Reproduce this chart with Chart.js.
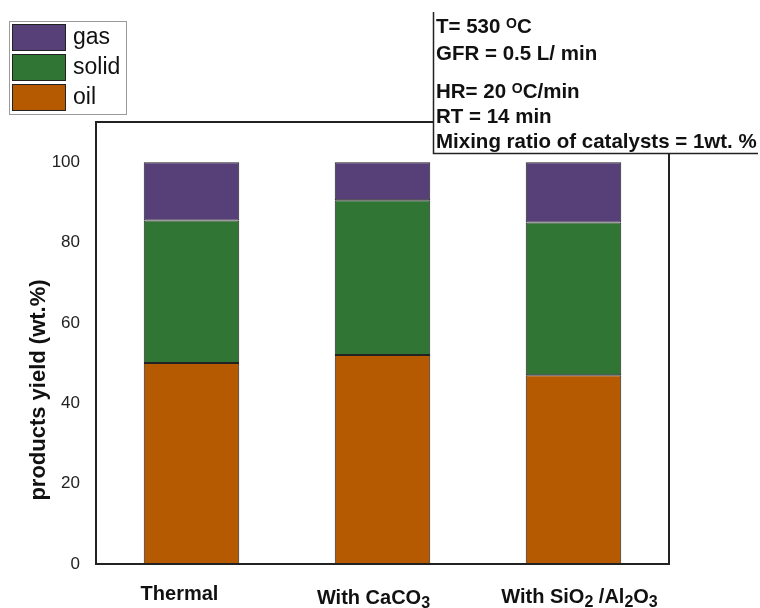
<!DOCTYPE html>
<html>
<head>
<meta charset="utf-8">
<script src="https://cdn.jsdelivr.net/npm/chart.js@4.4.1/dist/chart.umd.min.js"></script>
<style>
  html, body { margin: 0; padding: 0; background: #fff; }
  #wrap { width: 760px; height: 608px; }
</style>
</head>
<body>
<div id="wrap"><canvas id="yieldChart" width="760" height="608"></canvas></div>
<script>
// chart values
var categories = ['Thermal', 'With CaCO₃', 'With SiO₂ /Al₂O₃'];
var oil = [50, 52, 47];
var solid = [35.5, 38.5, 38];
var gas = [14.5, 9.5, 15];
var yTicks = [0, 20, 40, 60, 80, 100];
var yTitle = 'products yield (wt.%)';
var conditions = ['T= 530 ᴼC', 'GFR = 0.5 L/ min', 'HR= 20 ᴼC/min', 'RT = 14 min', 'Mixing ratio of catalysts = 1wt. %'];

var FAMILY = '"Liberation Sans", Arial, sans-serif';
var SUB = '₀₁₂₃₄₅₆₇₈₉';

// split text into normal / subscript / superscript runs
function splitRich(str) {
  var parts = [];
  for (var ch of str) {
    var kind = 'n', c = ch;
    var i = SUB.indexOf(ch);
    if (i >= 0) { kind = 'sub'; c = String(i); }
    else if (ch === 'ᴼ') { kind = 'sup'; c = 'O'; }
    var last = parts[parts.length - 1];
    if (last && last.kind === kind) last.text += c;
    else parts.push({ text: c, kind: kind });
  }
  return parts;
}

function drawRich(ctx, str, x, y, size, align) {
  var parts = splitRich(str);
  var fonts = {
    n: 'bold ' + size + 'px ' + FAMILY,
    sub: 'bold ' + Math.round(size * 0.78) + 'px ' + FAMILY,
    sup: 'bold ' + Math.round(size * 0.7) + 'px ' + FAMILY
  };
  var shift = { n: 0, sub: size * 0.22, sup: -size * 0.22 };
  var total = 0;
  parts.forEach(function (p) { ctx.font = fonts[p.kind]; p.w = ctx.measureText(p.text).width; total += p.w; });
  var cx = align === 'center' ? x - total / 2 : x;
  ctx.textAlign = 'left';
  ctx.textBaseline = 'alphabetic';
  parts.forEach(function (p) {
    ctx.font = fonts[p.kind];
    ctx.fillText(p.text, cx, y + shift[p.kind]);
    cx += p.w;
  });
}

var labelShift = [-12, -9, 6];
var labelBase = [600, 604, 603];
var condBase = [33, 60, 98, 123, 148];

var extrasPlugin = {
  id: 'extras',
  afterDraw: function (chart) {
    var ctx = chart.ctx;
    var a = chart.chartArea;
    var xs = chart.scales.x;
    ctx.save();

    // frame top and right
    ctx.strokeStyle = '#222';
    ctx.lineWidth = 2;
    ctx.beginPath();
    ctx.moveTo(a.left, a.top);
    ctx.lineTo(a.right, a.top);
    ctx.lineTo(a.right, a.bottom);
    ctx.stroke();

    // category labels with subscripts
    ctx.fillStyle = '#111';
    categories.forEach(function (c, i) {
      drawRich(ctx, c, xs.getPixelForValue(i) + labelShift[i], labelBase[i], 20, 'center');
    });

    // y axis title
    ctx.save();
    ctx.translate(39, 390);
    ctx.rotate(-Math.PI / 2);
    ctx.font = 'bold 22px ' + FAMILY;
    ctx.textAlign = 'center';
    ctx.textBaseline = 'middle';
    ctx.fillText(yTitle, 0, 0);
    ctx.restore();

    // conditions box
    ctx.fillStyle = '#fff';
    ctx.fillRect(434, 0, 326, 153);
    ctx.strokeStyle = '#222';
    ctx.lineWidth = 1.5;
    ctx.beginPath();
    ctx.moveTo(433.5, 12);
    ctx.lineTo(433.5, 153.5);
    ctx.lineTo(758, 153.5);
    ctx.stroke();
    ctx.fillStyle = '#111';
    conditions.forEach(function (t, i) {
      drawRich(ctx, t, 436, condBase[i], 20.5, 'left');
    });

    // legend box
    ctx.fillStyle = '#fff';
    ctx.fillRect(9, 21, 118, 93);
    ctx.strokeStyle = '#9a9a9a';
    ctx.lineWidth = 1;
    ctx.strokeRect(9.5, 21.5, 117, 93);
    var ds = chart.data.datasets.slice().reverse();
    ds.forEach(function (d, i) {
      var y = 24 + i * 30;
      ctx.fillStyle = d.backgroundColor;
      ctx.fillRect(12, y, 54, 27);
      ctx.strokeStyle = '#222';
      ctx.lineWidth = 1;
      ctx.strokeRect(12.5, y + 0.5, 53, 26);
      ctx.fillStyle = '#111';
      ctx.font = '23px ' + FAMILY;
      ctx.textAlign = 'left';
      ctx.textBaseline = 'middle';
      ctx.fillText(d.label, 73, y + 14);
    });

    ctx.restore();
  }
};

var barCommon = {
  borderColor: '#222',
  borderWidth: 1,
  borderSkipped: false,
  categoryPercentage: 1,
  barPercentage: 0.5
};

new Chart(document.getElementById('yieldChart'), {
  type: 'bar',
  data: {
    labels: categories,
    datasets: [
      Object.assign({ label: 'oil', data: oil, backgroundColor: '#b65a02' }, barCommon),
      Object.assign({ label: 'solid', data: solid, backgroundColor: '#307534' }, barCommon),
      Object.assign({ label: 'gas', data: gas, backgroundColor: '#573f78' }, barCommon)
    ]
  },
  options: {
    responsive: false,
    animation: false,
    devicePixelRatio: 1,
    layout: { padding: { top: 122, right: 91, bottom: 44, left: 0 } },
    plugins: {
      legend: { display: false },
      tooltip: { enabled: false }
    },
    scales: {
      x: {
        stacked: true,
        grid: { display: false, drawTicks: false },
        border: { display: true, color: '#222', width: 2 },
        ticks: { display: false },
        afterFit: function (s) { s.height = 0; }
      },
      y: {
        stacked: true,
        min: 0,
        max: 110,
        grid: { display: false, drawTicks: false },
        border: { display: true, color: '#222', width: 2 },
        ticks: {
          padding: 16,
          color: '#222',
          font: { family: FAMILY, size: 17 }
        },
        afterBuildTicks: function (s) { s.ticks = yTicks.map(function (v) { return { value: v }; }); },
        afterFit: function (s) { s.width = 96; }
      }
    }
  },
  plugins: [extrasPlugin]
});
</script>
</body>
</html>
